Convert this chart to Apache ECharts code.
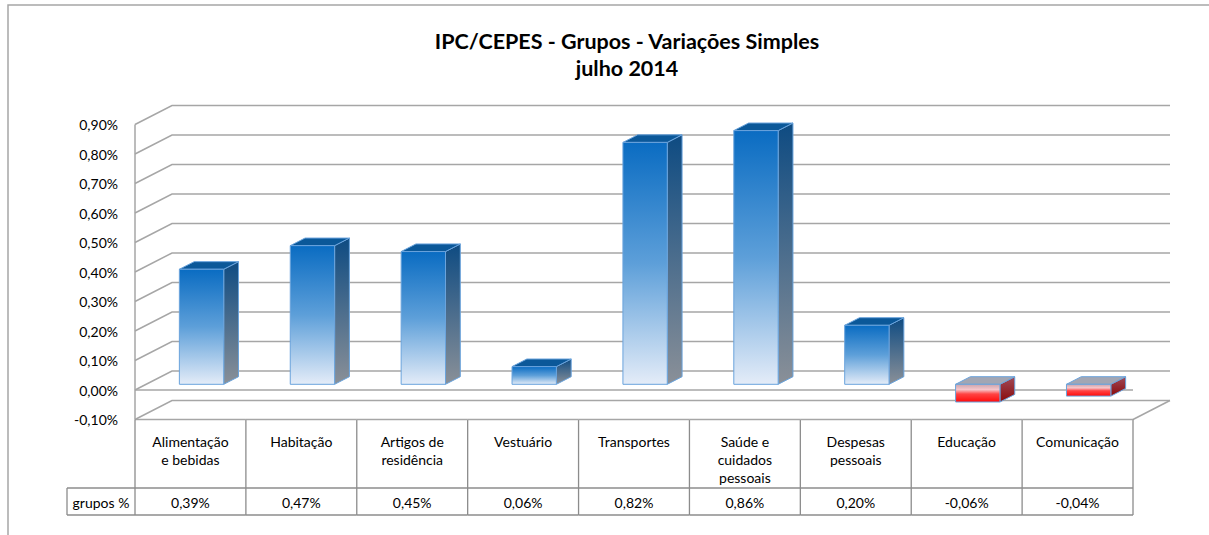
<!DOCTYPE html>
<html><head><meta charset="utf-8">
<script src="https://cdn.jsdelivr.net/npm/echarts@6/dist/echarts.min.js"></script>
<style>html,body{margin:0;padding:0;background:#fff;overflow:hidden}#c{width:1209px;height:535px}</style>
</head><body><div id="c"></div>
<script>
// ---- data ----
const categories = ['Alimentação\ne bebidas', 'Habitação', 'Artigos de\nresidência', 'Vestuário', 'Transportes', 'Saúde e\ncuidados\npessoais', 'Despesas\npessoais', 'Educação', 'Comunicação'];
const values = [0.39, 0.47, 0.45, 0.06, 0.82, 0.86, 0.20, -0.06, -0.04];
const rowLabel = 'grupos %';
const titleText = 'IPC/CEPES - Grupos - Variações Simples\njulho 2014';
const yTicks = [-0.1, 0, 0.1, 0.2, 0.3, 0.4, 0.5, 0.6, 0.7, 0.8, 0.9];

// ---- style constants ----
const FONT = 'Lato';
const FS = 14;
const DX = 37, DY = -19;       // wall depth offset
const F1 = 0.3, FD = 0.4;      // bar front depth fraction, bar depth fraction
const GRID_COLOR = '#a6a6a6';
const TABLE_COLOR = '#8c8c8c';
const fmt = v => (Math.round(v * 100) / 100).toFixed(2).replace('.', ',') + '%';

const chart = echarts.init(document.getElementById('c'), null, {renderer: 'svg'});

function line(x1, y1, x2, y2, color, w) {
  return {type: 'line', shape: {x1, y1, x2, y2}, style: {stroke: color, lineWidth: w}};
}

function renderWalls(params, api) {
  const cs = params.coordSys;
  const x0 = cs.x, x1 = cs.x + cs.width;
  const children = [];
  yTicks.forEach(t => {
    const y = api.coord([0, t])[1];
    children.push({type: 'polyline', shape: {points: [[x0, y], [x0 + DX, y + DY], [x1 + DX, y + DY]]},
      style: {stroke: GRID_COLOR, lineWidth: 1.5, fill: null}});
  });
  const yTop = api.coord([0, yTicks[yTicks.length - 1]])[1];
  const yBot = api.coord([0, yTicks[0]])[1];
  children.push(line(x0, yTop, x0, yBot, GRID_COLOR, 1.5));
  children.push(line(x1 + DX, yBot + DY, x1, yBot, GRID_COLOR, 1.5));
  const y0 = api.coord([0, 0])[1];
  children.push(line(x0, y0, x1, y0, GRID_COLOR, 1.5));
  return {type: 'group', children};
}

const blueFront = new echarts.graphic.LinearGradient(0, 0, 0, 1, [
  {offset: 0, color: '#0a6cc2'}, {offset: 0.5, color: '#5d9fd9'}, {offset: 1, color: '#e4ecf8'}]);
const blueSide = new echarts.graphic.LinearGradient(0, 0, 0, 1, [
  {offset: 0, color: '#0e4b82'}, {offset: 1, color: '#8a9098'}]);
const blueTop = '#0b5899';
const redFront = new echarts.graphic.LinearGradient(0, 0, 0, 1, [
  {offset: 0, color: '#c9a4ad'}, {offset: 0.3, color: '#f6c6cb'}, {offset: 0.55, color: '#ff4444'}, {offset: 1, color: '#ff0a0a'}]);
const redSide = new echarts.graphic.LinearGradient(0, 0, 0, 1, [
  {offset: 0, color: '#a04a58'}, {offset: 1, color: '#8a0a0a'}]);
const redTop = '#a2a6b3';
const EDGE = '#6aa3dc';

function renderBar(params, api) {
  const i = api.value(0), v = api.value(1);
  const c = api.coord([i, v]);
  const z = api.coord([i, 0]);
  const band = api.size([1, 0])[0];
  const w = band * 0.4;
  const x0 = c[0] - w / 2 + F1 * DX, x1 = x0 + w;
  const yv = c[1] + F1 * DY, y0 = z[1] + F1 * DY;
  const yT = Math.min(yv, y0), yB = Math.max(yv, y0);
  const dx = FD * DX, dy = FD * DY;
  const neg = v < 0;
  const st = (fill) => ({fill, stroke: EDGE, lineWidth: 1, lineJoin: 'round'});
  return {type: 'group', children: [
    {type: 'polygon', shape: {points: [[x1, yT], [x1 + dx, yT + dy], [x1 + dx, yB + dy], [x1, yB]]}, style: st(neg ? redSide : blueSide)},
    {type: 'polygon', shape: {points: [[x0, yT], [x0 + dx, yT + dy], [x1 + dx, yT + dy], [x1, yT]]}, style: st(neg ? redTop : blueTop)},
    {type: 'rect', shape: {x: x0, y: yT, width: w, height: yB - yT}, style: st(neg ? redFront : blueFront)}
  ]};
}

function renderTable(params, api) {
  const i = api.value(0), v = api.value(1);
  const cx = api.coord([i, 0])[0];
  const band = api.size([1, 0])[0];
  const top = api.coord([i, yTicks[0]])[1];
  const catBot = top + 68.5, valBot = catBot + 27;
  const xl = cx - band / 2, xr = cx + band / 2;
  const children = [
    line(xr, top, xr, valBot, TABLE_COLOR, 1.3),
    line(xl, top, xr, top, GRID_COLOR, 1.5),
    line(xl, catBot, xr, catBot, TABLE_COLOR, 1.3),
    line(xl, valBot, xr, valBot, TABLE_COLOR, 1.3),
    {type: 'text', style: {text: categories[i], x: cx, y: top + 12.5, align: 'center', verticalAlign: 'top',
      font: FS + 'px ' + FONT, fill: '#000', lineHeight: 18}},
    {type: 'text', style: {text: fmt(v), x: cx, y: (catBot + valBot) / 2 + 0.5, align: 'center', verticalAlign: 'middle',
      font: FS + 'px ' + FONT, fill: '#000'}}
  ];
  if (i === 0) {
    const lx = xl - 68;
    children.push(line(xl, top, xl, valBot, TABLE_COLOR, 1.3));
    children.push(line(lx, catBot, xl, catBot, TABLE_COLOR, 1.3));
    children.push(line(lx, valBot, xl, valBot, TABLE_COLOR, 1.3));
    children.push(line(lx, catBot, lx, valBot, TABLE_COLOR, 1.3));
    children.push({type: 'text', style: {text: rowLabel, x: (lx + xl) / 2, y: (catBot + valBot) / 2 + 0.5, align: 'center',
      verticalAlign: 'middle', font: FS + 'px ' + FONT, fill: '#000'}});
  }
  return {type: 'group', children};
}

chart.setOption({
  animation: false,
  backgroundColor: '#fff',
  title: {text: titleText, left: 627, top: 27, textAlign: 'center', padding: 0,
    textStyle: {fontFamily: FONT, fontWeight: 'bold', fontSize: 21.5, lineHeight: 27, color: '#000'}},
  graphic: [{type: 'polyline', shape: {points: [[8, 560], [8, 5], [1230, 5]]}, style: {fill: null, stroke: '#a6a6a6', lineWidth: 1.5}, silent: true}],
  grid: {left: 135, right: 76, top: 124.5, bottom: 115.5},
  xAxis: {type: 'category', data: categories, axisLine: {show: false}, axisTick: {show: false}, axisLabel: {show: false}, splitLine: {show: false}},
  yAxis: {type: 'value', min: -0.1, max: 0.9, interval: 0.1,
    axisLine: {show: false}, axisTick: {show: false}, splitLine: {show: false},
    axisLabel: {formatter: fmt, margin: 17, color: '#000', fontFamily: FONT, fontSize: FS}},
  series: [
    {type: 'custom', renderItem: renderWalls, data: [[0, 0]], z: 1, silent: true},
    {type: 'custom', renderItem: renderBar, data: values.map((v, i) => [i, v]), z: 2},
    {type: 'custom', renderItem: renderTable, data: values.map((v, i) => [i, v]), z: 3, silent: true}
  ]
});
</script></body></html>
